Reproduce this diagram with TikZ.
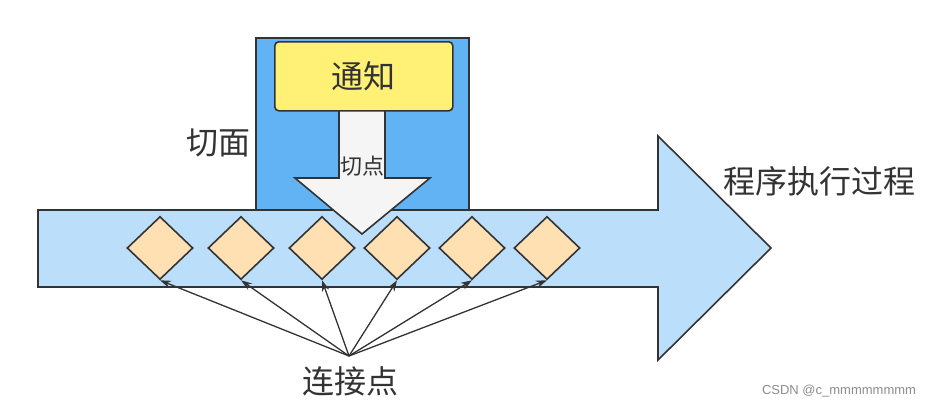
\documentclass[tikz,border=0pt]{standalone}
\usepackage{fontspec}
\newfontfamily\cjk{Noto Sans CJK SC}
\setsansfont{Liberation Sans}
\usetikzlibrary{shapes.geometric,arrows.meta}
\definecolor{edge}{HTML}{333333}
\definecolor{boxblue}{HTML}{62B3F4}
\definecolor{flowblue}{HTML}{BBDEFB}
\definecolor{notice}{HTML}{FFF176}
\definecolor{joint}{HTML}{FFE0B2}
\definecolor{cutarrow}{HTML}{F5F5F5}
\tikzset{
  shapeline/.style={draw=edge, line width=1.6pt, line join=miter},
  jointbox/.style={shapeline, diamond, fill=joint, minimum width=66pt, minimum height=63pt, inner sep=0pt, aspect=1.05},
  bigtext/.style={font=\cjk\fontsize{32pt}{34pt}\selectfont, text=edge, inner sep=0pt},
  smalltext/.style={font=\cjk\fontsize{22pt}{24pt}\selectfont, text=edge, inner sep=0pt},
  linkarrow/.style={draw=edge, line width=1.3pt, -{Stealth[length=11pt,width=7.5pt]}},
}
\begin{document}
\begin{tikzpicture}[x=1pt,y=-1pt]
\useasboundingbox (0,0) rectangle (933,407);
% aspect box
\node[shapeline, fill=boxblue, minimum width=213pt, minimum height=173pt, inner sep=0pt, anchor=north west] (aspect) at (255,37) {};
% program flow arrow
\path[shapeline, fill=flowblue] (38,210) -- (658,210) -- (658,136) -- (771,248) -- (658,360) -- (658,287) -- (38,287) -- cycle;
\coordinate (flowtip) at (771,248);
% cut point arrow
\path[shapeline, fill=cutarrow] (339,108) -- (385,108) -- (385,178) -- (430,178) -- (362,234) -- (295,178) -- (339,178) -- cycle;
% notice box
\node[shapeline, fill=notice, rounded corners=4pt, minimum width=178pt, minimum height=69pt, inner sep=0pt, anchor=north west] (notice) at (274,41) {};
\node[bigtext] at (notice.center) {通知};
% labels
\node[bigtext] (aspectlabel) at (218,143) {切面};
\node[smalltext] (cutlabel) at (362,166) {切点};
\node[bigtext] (flowlabel) at (819,181) {程序执行过程};
\node[bigtext] (jplabel) at (350,381) {连接点};
% join points
\node[jointbox] (d1) at (160,248) {};
\node[jointbox] (d2) at (241,248) {};
\node[jointbox] (d3) at (322,248) {};
\node[jointbox] (d4) at (397,248) {};
\node[jointbox] (d5) at (472,248) {};
\node[jointbox] (d6) at (547,248) {};
% connectors
\coordinate (src) at (349,356);
\foreach \d in {d1,d2,d3,d4,d5,d6} {
  \draw[linkarrow] (src) -- (\d.south);
}
% footer
\node[font=\sffamily\fontsize{13pt}{15pt}\selectfont, text=black!45, inner sep=0pt] (credit) at (839,391) {CSDN @c\_mmmmmmmm};
\end{tikzpicture}
\end{document}
